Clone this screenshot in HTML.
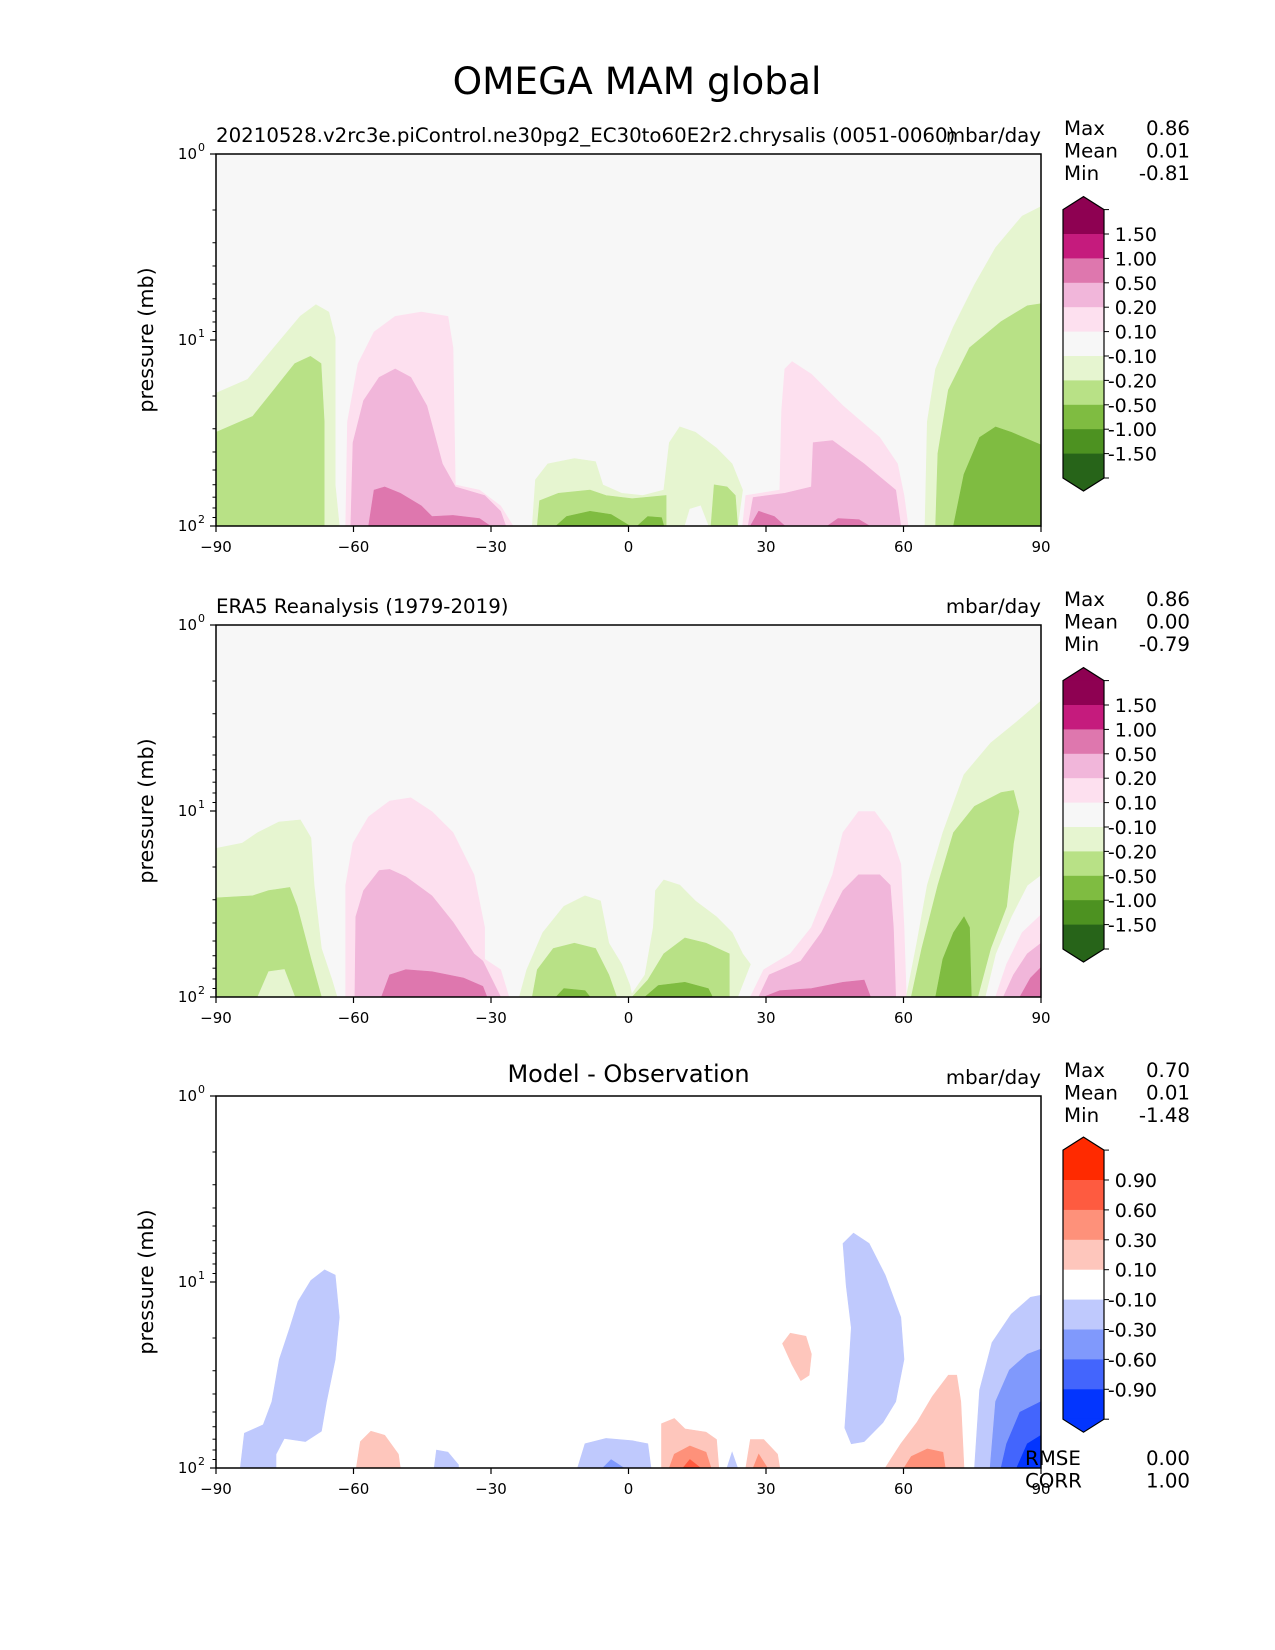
<!DOCTYPE html>
<html><head><meta charset="utf-8">
<style>
html,body{margin:0;padding:0;background:#fff;}
svg{display:block;font-family:"DejaVu Sans","Liberation Sans",sans-serif;}
</style></head>
<body>
<svg id="fig" width="1275" height="1650" viewBox="0 0 1275 1650" xmlns="http://www.w3.org/2000/svg">
<rect x="0" y="0" width="1275" height="1650" fill="#fff"/>
<text x="637" y="94" font-size="37.5" text-anchor="middle">OMEGA MAM global</text>
</svg>
<script>
// ---- data ----
const xTicks = [-90,-60,-30,0,30,60,90];
const xTickLabels = ["\u221290","\u221260","\u221230","0","30","60","90"];
const yDecades = [0,1,2];
const cbColorsMain = ["#8e0152","#c51b7d","#de77ae","#f1b6da","#fde0ef","#f7f7f7","#e6f5d0","#b8e186","#7fbc41","#4d9221","#276419"];
const cbLabelsMain = ["1.50","1.00","0.50","0.20","0.10","-0.10","-0.20","-0.50","-1.00","-1.50"];
const cbColorsDiff = ["#ff2a00","#fe5b40","#fe917a","#fec6bc","#ffffff","#bfc9fd","#8099fc","#4365fd","#0335fe"];
const cbLabelsDiff = ["0.90","0.60","0.30","0.10","-0.10","-0.30","-0.60","-0.90"];
const statNames = ["Max","Mean","Min"];
const stats1 = ["0.86","0.01","-0.81"];
const stats2 = ["0.86","0.00","-0.79"];
const stats3 = ["0.70","0.01","-1.48"];
const rmseCorr = ["0.00","1.00"];
// contour regions: [color, [[lat, log10(p)], ...]]
const panel1Shapes = [
 ["#e6f5d0",[[-90,2],[-90,1.286],[-83.1,1.212],[-77.4,1.042],[-71.6,0.872],[-68.2,0.81],[-65.4,0.85],[-64,0.986],[-64,1.779],[-63.1,2]]],
 ["#b8e186",[[-90,2],[-90,1.496],[-82,1.411],[-77.4,1.269],[-72.8,1.127],[-69.4,1.088],[-67.1,1.127],[-66.4,1.439],[-66.4,2]]],
 ["#fde0ef",[[-61.7,2],[-61.3,1.439],[-59,1.127],[-55.5,0.957],[-50.9,0.873],[-45.2,0.85],[-39.4,0.873],[-38.3,1.042],[-37.8,1.779],[-32.5,1.807],[-27.9,1.892],[-25.2,2]]],
 ["#f1b6da",[[-60.6,2],[-60.1,1.552],[-57.8,1.326],[-54.4,1.201],[-50.9,1.156],[-47.5,1.201],[-44,1.354],[-40.6,1.666],[-37.8,1.79],[-31.4,1.836],[-27.9,1.921],[-26.8,2]]],
 ["#de77ae",[[-56.7,2],[-55.5,1.807],[-53.2,1.79],[-49.8,1.824],[-45.2,1.892],[-42.9,1.949],[-38.3,1.943],[-32.5,1.96],[-30.2,2]]],
 ["#e6f5d0",[[-21,2],[-20.3,1.751],[-17.6,1.666],[-11.8,1.637],[-7.2,1.654],[-5.6,1.779],[-1.5,1.824],[3.1,1.836],[7.7,1.807],[8.9,1.552],[11.2,1.467],[14.6,1.496],[19.2,1.581],[22.6,1.666],[24.9,1.807],[23.8,2]]],
 ["#f7f7f7",[[12.3,2],[13.4,1.909],[15.7,1.892],[17.4,2]]],
 ["#b8e186",[[-19.9,2],[-19.4,1.864],[-15.3,1.824],[-8.4,1.807],[-4.9,1.836],[0.8,1.853],[8.2,1.836],[8.2,2]]],
 ["#7fbc41",[[-15.8,2],[-13.5,1.949],[-8.4,1.921],[-3.8,1.938],[0.3,2]]],
 ["#7fbc41",[[1.95,2],[4.2,1.949],[7.2,1.955],[7.7,2]]],
 ["#b8e186",[[18,2],[18.7,1.779],[21.5,1.79],[23.3,1.836],[23.8,2]]],
 ["#fde0ef",[[24.9,2],[25.6,1.836],[33,1.807],[33.4,1.382],[34.1,1.156],[35.7,1.116],[39.9,1.184],[46.8,1.354],[54.8,1.524],[58.7,1.666],[60.1,1.836],[61,2]]],
 ["#f1b6da",[[26.1,2],[27.2,1.847],[34.1,1.824],[39.9,1.79],[40.3,1.552],[44.5,1.541],[51.4,1.666],[58.3,1.807],[59.4,2]]],
 ["#de77ae",[[26.6,2],[28.4,1.921],[31.8,1.949],[34.1,2]]],
 ["#de77ae",[[43.4,2],[45.7,1.96],[50.3,1.966],[52.6,2]]],
 ["#e6f5d0",[[64.7,2],[65.2,1.439],[67,1.156],[70.9,0.929],[75.5,0.703],[80.1,0.504],[85.9,0.334],[90,0.283],[90,2]]],
 ["#b8e186",[[67,2],[67.5,1.609],[69.8,1.269],[74.4,1.042],[81.3,0.901],[87,0.816],[90,0.805],[90,2]]],
 ["#7fbc41",[[70.9,2],[73.2,1.722],[76.6,1.524],[80.1,1.467],[83.5,1.496],[90,1.564],[90,2]]]
];
const panel2Shapes = [
 ["#e6f5d0",[[-90,2],[-90,1.201],[-84.3,1.173],[-80.9,1.116],[-76.3,1.059],[-71.6,1.048],[-69.3,1.144],[-68.6,1.399],[-67,1.739],[-64.7,1.909],[-63.6,2]]],
 ["#b8e186",[[-90,2],[-90,1.467],[-82,1.456],[-78.5,1.428],[-73.9,1.411],[-72.3,1.513],[-70.5,1.683],[-69.3,1.796],[-67,2]]],
 ["#e6f5d0",[[-80.9,2],[-78.5,1.864],[-75.1,1.852],[-72.8,2]]],
 ["#fde0ef",[[-61.7,2],[-61.7,1.399],[-60.1,1.173],[-56.7,1.031],[-52.1,0.946],[-47.5,0.929],[-42.9,1.003],[-38.3,1.116],[-33.7,1.343],[-31.4,1.626],[-31.4,1.796],[-27.9,1.853],[-26.1,2]]],
 ["#f1b6da",[[-59.7,2],[-59.5,1.569],[-57.8,1.428],[-54.4,1.32],[-52.1,1.314],[-48.6,1.354],[-42.9,1.456],[-38.3,1.598],[-33.7,1.768],[-31.8,1.807],[-27.9,2]]],
 ["#de77ae",[[-53.9,2],[-52.1,1.881],[-48.6,1.853],[-42.9,1.864],[-36,1.898],[-31.8,1.943],[-30.9,2]]],
 ["#e6f5d0",[[-23.8,2],[-22.2,1.853],[-18.7,1.654],[-14.1,1.513],[-9.5,1.456],[-6.1,1.484],[-4.3,1.711],[-1.5,1.824],[0.3,1.938],[0.8,2]]],
 ["#b8e186",[[-21,2],[-19.9,1.853],[-16.4,1.739],[-11.8,1.711],[-7.2,1.739],[-4.3,1.881],[-2.6,2]]],
 ["#7fbc41",[[-15.8,2],[-14.1,1.955],[-9.5,1.966],[-8.4,2]]],
 ["#e6f5d0",[[0.3,2],[3.6,1.881],[5.4,1.626],[5.9,1.428],[7.7,1.371],[11.2,1.399],[14.6,1.484],[19.2,1.569],[22.6,1.654],[24.9,1.768],[26.6,1.824],[23.8,2]]],
 ["#b8e186",[[0.8,2],[4.2,1.909],[7.7,1.768],[12.3,1.683],[16.9,1.711],[22,1.768],[22,2]]],
 ["#7fbc41",[[3.6,2],[6.5,1.938],[12.3,1.921],[17.4,1.955],[18.3,2]]],
 ["#fde0ef",[[26.6,2],[29.5,1.853],[35.3,1.768],[39.9,1.626],[44.5,1.343],[46.8,1.116],[50.2,1.003],[53.7,1.003],[57.1,1.116],[59.4,1.286],[60.1,1.626],[60.6,2]]],
 ["#f1b6da",[[28.4,2],[30.7,1.881],[37.6,1.807],[42.1,1.654],[46.8,1.428],[50.2,1.343],[54.8,1.343],[57.1,1.399],[57.8,1.626],[58.3,2]]],
 ["#de77ae",[[29.5,2],[33,1.966],[39.9,1.955],[46.8,1.921],[51.4,1.909],[52.8,2]]],
 ["#e6f5d0",[[60.6,2],[62.9,1.711],[65.2,1.399],[68.6,1.116],[73.2,0.805],[79,0.635],[84.7,0.521],[90,0.408],[90,1.343],[87,1.399],[83.5,1.569],[80.1,1.768],[77.8,2]]],
 ["#b8e186",[[61.7,2],[64,1.739],[67.5,1.399],[70.9,1.116],[75.5,0.975],[81.3,0.901],[84,0.89],[85.2,1.003],[84,1.173],[82.5,1.513],[79,1.739],[76.2,2]]],
 ["#7fbc41",[[67,2],[68.6,1.796],[70.9,1.654],[73.2,1.569],[74.4,1.626],[74.8,2]]],
 ["#fde0ef",[[80.1,2],[82.5,1.824],[85.9,1.654],[90,1.558],[90,2]]],
 ["#f1b6da",[[81.8,2],[84,1.881],[87,1.768],[90,1.711],[90,2]]],
 ["#de77ae",[[85.4,2],[87.7,1.898],[90,1.841],[90,2]]]
];
const panel3Shapes = [
 ["#bfc9fd",[[-84.7,2],[-83.8,1.813],[-79.7,1.768],[-77.8,1.643],[-76.2,1.416],[-73.9,1.246],[-72.1,1.105],[-69.3,0.992],[-66.3,0.935],[-64,0.963],[-63.1,1.19],[-64,1.416],[-65.9,1.643],[-67,1.802],[-70.5,1.858],[-75.1,1.841],[-76.9,1.926],[-76.9,2]]],
 ["#fec6bc",[[-59.4,2],[-58.5,1.858],[-56.2,1.802],[-53.2,1.824],[-50.2,1.926],[-49.8,2]]],
 ["#bfc9fd",[[-42.4,2],[-41.9,1.904],[-39.4,1.915],[-37.1,1.983],[-37.1,2]]],
 ["#bfc9fd",[[-11.1,2],[-9.5,1.87],[-4.9,1.841],[0.8,1.853],[4.2,1.87],[4.9,2]]],
 ["#8099fc",[[-5.6,2],[-3.8,1.955],[-1,2]]],
 ["#fec6bc",[[7.2,2],[7.2,1.762],[10,1.734],[12.3,1.79],[16.9,1.807],[19.2,1.847],[19.7,2]]],
 ["#fe917a",[[8.9,2],[10,1.926],[13.4,1.881],[16.9,1.915],[18,2]]],
 ["#fe5b40",[[11.9,2],[13.4,1.955],[15.7,2]]],
 ["#bfc9fd",[[21.5,2],[22.6,1.915],[23.8,2]]],
 ["#fec6bc",[[25.6,2],[26.6,1.847],[29.5,1.847],[32.5,1.926],[33,2]]],
 ["#fe917a",[[27.2,2],[28.4,1.926],[30.3,2]]],
 ["#fec6bc",[[33.6,1.331],[35.3,1.275],[38.7,1.292],[39.9,1.388],[39.4,1.501],[37.6,1.53],[35.7,1.445]]],
 ["#bfc9fd",[[47.2,1.785],[47.9,1.53],[48.6,1.246],[47.5,1.02],[46.8,0.793],[49.1,0.737],[52.5,0.793],[56,0.963],[59.4,1.19],[60.1,1.416],[58.3,1.643],[55.5,1.756],[51.4,1.858],[48.6,1.87]]],
 ["#fec6bc",[[56,2],[59.4,1.87],[62.9,1.756],[66.3,1.615],[69.8,1.501],[71.6,1.501],[72.5,1.643],[73.2,2]]],
 ["#fe917a",[[60.1,2],[61.7,1.938],[65.2,1.898],[68.6,1.915],[69.1,2]]],
 ["#bfc9fd",[[75.5,2],[76.6,1.581],[79.3,1.326],[83.5,1.173],[87.7,1.082],[90,1.071],[90,2]]],
 ["#8099fc",[[78.9,2],[80.1,1.643],[83.1,1.473],[87,1.388],[90,1.36],[90,2]]],
 ["#4365fd",[[81.3,2],[82.5,1.87],[85.4,1.7],[90,1.643],[90,2]]],
 ["#0335fe",[[84.7,2],[87,1.87],[90,1.824],[90,2]]]
];
// ---- layout ----
const NS="http://www.w3.org/2000/svg";
const svg=document.getElementById('fig');
const PL=216, PW=825, PH=372;
function mk(tag,attrs,parent){const e=document.createElementNS(NS,tag);for(const k in attrs)e.setAttribute(k,attrs[k]);(parent||svg).appendChild(e);return e;}
function xs(lat){return PL+(lat+90)/180*PW;}
function ysF(top){return function(lp){return top+lp/2*PH;};}

function drawPanel(idx,top,bg,shapes,leftTitle,centerTitle,stats,cbColors,cbLabels,cbFirst,cbStep,showRC){
  const g=mk('g',{});
  
  
  const ys=ysF(top);
  const bgr=mk('rect',{x:PL,y:top,width:PW,height:PH,fill:bg},g);
  
  
  shapes.forEach(function(s){
    const d=s[1].map(function(p,j){return (j?'L':'M')+xs(p[0]).toFixed(1)+','+ys(p[1]).toFixed(1);}).join('')+'Z';
    const pa=mk('path',{d:d,fill:s[0],stroke:s[0],'stroke-width':0.6},g);
    
    
  });
  const fr=mk('rect',{x:PL,y:top,width:PW,height:PH,fill:'none',stroke:'#000','stroke-width':1.5},g);
  
  
  xTicks.forEach(function(v,i){
    const x=xs(v);
    mk('line',{x1:x,y1:top+PH,x2:x,y2:top+PH+6,stroke:'#000','stroke-width':1.2},g);
    const t=mk('text',{x:x,y:top+PH+26,'font-size':15,'text-anchor':'middle'},g);
    
    
    t.textContent=xTickLabels[i];
  });
  yDecades.forEach(function(dd){
    const y=ys(dd);
    mk('line',{x1:PL-6,y1:y,x2:PL,y2:y,stroke:'#000','stroke-width':1.2},g);
    const t=mk('text',{x:PL-19,y:y+5,'font-size':15,'text-anchor':'end'},g);
    
    
    t.textContent='10';
    const s=mk('text',{x:PL-18,y:y-3,'font-size':11,'text-anchor':'start'},g);
    
    
    s.textContent=String(dd);
    if(dd<2){for(let m=2;m<10;m++){const ym=ys(dd+Math.log10(m));mk('line',{x1:PL-3.5,y1:ym,x2:PL,y2:ym,stroke:'#000','stroke-width':1},g);}}
  });
  const yl=mk('text',{x:0,y:0,'font-size':20.7,'text-anchor':'middle',transform:'translate(153,'+(top+PH/2)+') rotate(-90)'},g);
  
  
  yl.textContent='pressure (mb)';
  if(leftTitle){const t=mk('text',{x:PL,y:top-12,'font-size':19.8},g);t.textContent=leftTitle;}
  if(centerTitle){const t=mk('text',{x:PL+PW/2,y:top-14,'font-size':24,'text-anchor':'middle'},g);t.textContent=centerTitle;}
  const u=mk('text',{x:PL+PW,y:top-12,'font-size':19.8,'text-anchor':'end'},g);
  
  
  u.textContent='mbar/day';
  statNames.forEach(function(n,i){
    const y=top-19+i*22.5;
    const a=mk('text',{x:1064,y:y,'font-size':19.8},g);
    
    
    a.textContent=n;
    const b=mk('text',{x:1190,y:y,'font-size':19.8,'text-anchor':'end'},g);
    
    
    b.textContent=stats[i];
  });
  // colorbar: one band per colour (first/last are extend colours), plus triangles
  const cx=1063, cw=41, n=cbColors.length;
  const boxTop=top+cbFirst-cbStep, boxBot=boxTop+n*cbStep, tri=13;
  const cb=mk('g',{},g);
  
  
  mk('polygon',{points:cx+','+(boxTop+0.5)+' '+(cx+cw/2)+','+(boxTop-tri)+' '+(cx+cw)+','+(boxTop+0.5),fill:cbColors[0]},cb);
  for(let i=0;i<n;i++){
    const r=mk('rect',{x:cx,y:boxTop+i*cbStep,width:cw,height:cbStep+0.6,fill:cbColors[i]},cb);
    
    
  }
  mk('polygon',{points:cx+','+(boxBot-0.5)+' '+(cx+cw/2)+','+(boxBot+tri)+' '+(cx+cw)+','+(boxBot-0.5),fill:cbColors[n-1]},cb);
  mk('path',{d:'M'+cx+','+boxTop+'L'+(cx+cw/2)+','+(boxTop-tri)+'L'+(cx+cw)+','+boxTop+'L'+(cx+cw)+','+boxBot+'L'+(cx+cw/2)+','+(boxBot+tri)+'L'+cx+','+boxBot+'Z',fill:'none',stroke:'#000','stroke-width':1.2},cb);
  mk('line',{x1:cx+cw,y1:boxTop,x2:cx+cw+5,y2:boxTop,stroke:'#000'},cb);
  mk('line',{x1:cx+cw,y1:boxBot,x2:cx+cw+5,y2:boxBot,stroke:'#000'},cb);
  cbLabels.forEach(function(l,i){
    const y=top+cbFirst+i*cbStep;
    mk('line',{x1:cx+cw,y1:y,x2:cx+cw+5,y2:y,stroke:'#000'},cb);
    const t=mk('text',{x:1157,y:y+7,'font-size':19,'text-anchor':'end'},cb);
    
    
    t.textContent=l;
  });
  if(showRC){
    ['RMSE','CORR'].forEach(function(n,i){
      const y=top+PH-3+i*22.5;
      const a=mk('text',{x:1025,y:y,'font-size':19.8},g);
      
      
      a.textContent=n;
      const b=mk('text',{x:1190,y:y,'font-size':19.8,'text-anchor':'end'},g);
      
      
      b.textContent=rmseCorr[i];
    });
  }
}
drawPanel(1,154,'#f7f7f7',panel1Shapes,'20210528.v2rc3e.piControl.ne30pg2_EC30to60E2r2.chrysalis (0051-0060)',null,stats1,cbColorsMain,cbLabelsMain,80,24.4,false);
drawPanel(2,625,'#f7f7f7',panel2Shapes,'ERA5 Reanalysis (1979-2019)',null,stats2,cbColorsMain,cbLabelsMain,80,24.4,false);
drawPanel(3,1096,'#ffffff',panel3Shapes,null,'Model - Observation',stats3,cbColorsDiff,cbLabelsDiff,84,29.9,true);
</script>
</body></html>
